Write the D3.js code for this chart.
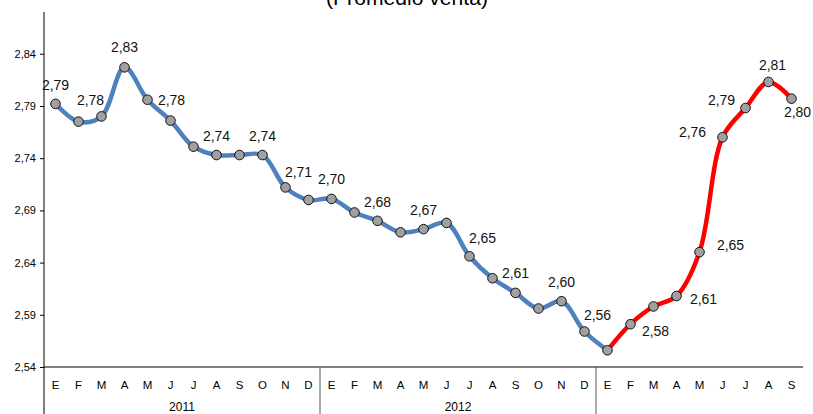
<!DOCTYPE html>
<html>
<head>
<meta charset="utf-8">
<script src="https://cdn.jsdelivr.net/npm/d3@7/dist/d3.min.js"></script>
<style>
  html, body { margin: 0; padding: 0; background: #ffffff; }
  svg { display: block; font-family: Arial, "Liberation Sans", sans-serif; }
</style>
</head>
<body>
<svg id="chart" width="813" height="414"></svg>
<script>
// Monthly average sale price, Jan 2011 – Sep 2013
const monthLetters = ["E", "F", "M", "A", "M", "J", "J", "A", "S", "O", "N", "D"];
const years = ["2011", "2012", "2013"];
const values2011 = [2.792, 2.775, 2.780, 2.827, 2.796, 2.776, 2.751, 2.743, 2.743, 2.743, 2.712, 2.700];
const values2012 = [2.701, 2.688, 2.680, 2.669, 2.672, 2.678, 2.646, 2.625, 2.611, 2.596, 2.603, 2.574];
const values2013 = [2.556, 2.581, 2.598, 2.608, 2.650, 2.760, 2.788, 2.813, 2.797];
const yTicks = [2.54, 2.59, 2.64, 2.69, 2.74, 2.79, 2.84];
const titleText = "(Promedio venta)";

// which points carry a value label, and where the label sits relative to the point
const labelOffsets = new Map([
  [0, [0, -19]], [2, [-11, -16]], [3, [0, -20]], [5, [1, -20]], [7, [0, -19]],
  [9, [0, -19]], [10, [13, -15]], [12, [0, -20]], [14, [0, -19]], [16, [0, -19]],
  [18, [13, -18]], [20, [0, -20]], [22, [0, -19]], [24, [-10, -35]], [25, [25, 7]],
  [27, [27, 3]], [28, [31, -7]], [29, [-30, -5]], [30, [-24, -8]], [31, [4, -17]],
  [32, [6, 13]]
]);

const series = [values2011, values2012, values2013];
const points = [];
series.forEach((vals, yi) => vals.forEach((v, mi) => points.push({
  i: points.length, year: years[yi], month: monthLetters[mi], value: v
})));

const svg = d3.select("#chart");
const left = 44, right = 803, baseY = 367, topY = 12, bottom = 414;

const x = d3.scaleBand().domain(points.map(d => d.i)).range([left, right]).padding(0);
const y = d3.scaleLinear().domain([2.54, 2.88]).range([baseY, topY]);
const cx = d => x(d.i) + x.bandwidth() / 2;

const comma = d3.formatLocale({ decimal: ",", thousands: ".", grouping: [3], currency: ["", ""] }).format(".2f");

// title (partially visible at the top edge)
svg.append("text")
  .attr("x", 407).attr("y", 5)
  .attr("text-anchor", "middle")
  .attr("font-size", 20)
  .attr("textLength", 162)
  .attr("lengthAdjust", "spacingAndGlyphs")
  .attr("fill", "#000")
  .text(titleText);

// y axis
const yAxis = svg.append("g")
  .attr("transform", `translate(${left},0)`)
  .call(d3.axisLeft(y).tickValues(yTicks).tickSize(4).tickPadding(4).tickFormat(comma));
yAxis.select(".domain").remove();
yAxis.selectAll(".tick line").attr("stroke", "#000");
yAxis.selectAll(".tick text").attr("font-size", 11).attr("fill", "#000")
  .attr("font-family", "Arial, 'Liberation Sans', sans-serif");
svg.append("line")
  .attr("x1", left).attr("x2", left).attr("y1", topY).attr("y2", bottom)
  .attr("stroke", "#000").attr("stroke-width", 1);

// x axis baseline
svg.append("line")
  .attr("x1", left).attr("x2", right).attr("y1", baseY).attr("y2", baseY)
  .attr("stroke", "#000").attr("stroke-width", 1);

// month letters
svg.append("g").selectAll("text").data(points).join("text")
  .attr("x", cx).attr("y", 385)
  .attr("dy", "0.35em")
  .attr("text-anchor", "middle")
  .attr("font-size", 11.5)
  .attr("fill", "#000")
  .text(d => d.month);

// year groups: separators and labels
years.forEach((yr, k) => {
  const grp = points.filter(d => d.year === yr);
  const x0 = x(grp[0].i), x1 = x(grp[grp.length - 1].i) + x.bandwidth();
  if (k > 0) {
    svg.append("line")
      .attr("x1", x0).attr("x2", x0).attr("y1", baseY).attr("y2", bottom)
      .attr("stroke", "#555").attr("stroke-width", 1);
  }
  if (grp.length === 12) {
    svg.append("text")
      .attr("x", (x0 + x1) / 2).attr("y", 407)
      .attr("dy", "0.35em")
      .attr("text-anchor", "middle")
      .attr("font-size", 12)
      .attr("fill", "#000")
      .text(yr);
  }
});

// smoothed price line: blue through Jan 2013, red afterwards
const line = d3.line().x(cx).y(d => y(d.value)).curve(d3.curveCatmullRom.alpha(0.5));
const splitAt = values2011.length + values2012.length;
svg.append("path")
  .datum(points.slice(0, splitAt + 1))
  .attr("d", line)
  .attr("fill", "none").attr("stroke", "#4f81bd").attr("stroke-width", 4.5)
  .attr("stroke-linejoin", "round").attr("stroke-linecap", "round");
svg.append("path")
  .datum(points.slice(splitAt))
  .attr("d", line)
  .attr("fill", "none").attr("stroke", "#ff0000").attr("stroke-width", 4.5)
  .attr("stroke-linejoin", "round").attr("stroke-linecap", "round");

// markers
svg.append("g").selectAll("circle").data(points).join("circle")
  .attr("cx", cx).attr("cy", d => y(d.value)).attr("r", 4.8)
  .attr("fill", "#a0a0a0").attr("stroke", "#111").attr("stroke-width", 1);

// value labels
svg.append("g").selectAll("text").data(points.filter(d => labelOffsets.has(d.i))).join("text")
  .attr("x", d => cx(d) + labelOffsets.get(d.i)[0])
  .attr("y", d => y(d.value) + labelOffsets.get(d.i)[1])
  .attr("dy", "0.35em")
  .attr("text-anchor", "middle")
  .attr("font-size", 14)
  .attr("fill", "#111")
  .text(d => comma(d.value));
</script>
</body>
</html>
